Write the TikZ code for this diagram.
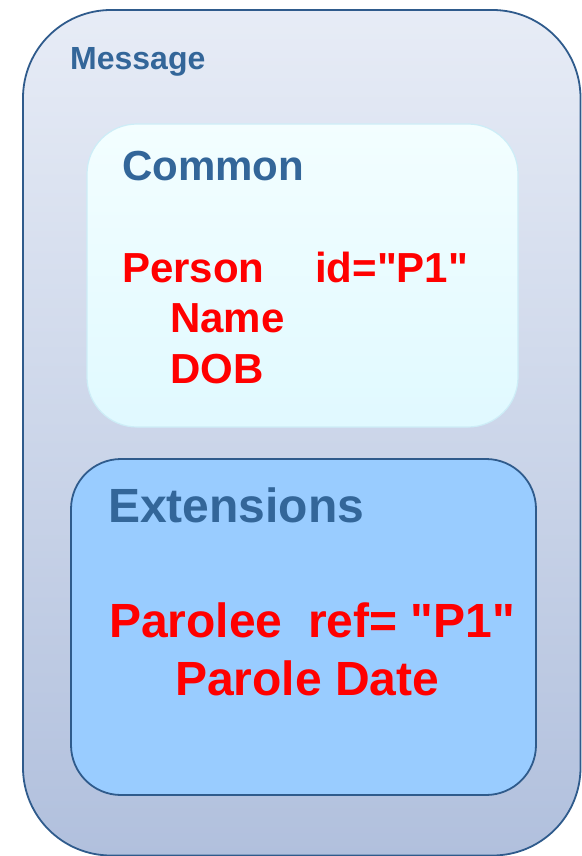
\documentclass[tikz,border=0pt]{standalone}
\usepackage{fontspec}
\newfontfamily\af{Liberation Sans}[Ligatures=ResetAll]
\definecolor{edgeblue}{HTML}{2F5B8C}
\definecolor{titleblue}{HTML}{336699}
\definecolor{outertop}{HTML}{E7ECF6}
\definecolor{outerbot}{HTML}{B1C0DD}
\definecolor{comtop}{HTML}{F3FEFF}
\definecolor{combot}{HTML}{E0F9FF}
\definecolor{comedge}{HTML}{CDEDF7}
\definecolor{extfill}{HTML}{99CCFF}
\definecolor{redtext}{HTML}{FF0000}
\begin{document}
\begin{tikzpicture}[x=1pt,y=-1pt,
  outerbox/.style={draw=edgeblue,line width=1.8pt,rounded corners=88pt,top color=outertop,bottom color=outerbot},
  combox/.style={draw=comedge,line width=1.2pt,rounded corners=50pt,top color=comtop,bottom color=combot},
  extbox/.style={draw=edgeblue,line width=1.8pt,rounded corners=50pt,fill=extfill},
  lbl/.style={anchor=base west,inner sep=0pt},
  small/.style={lbl,text=titleblue,font=\af\bfseries\fontsize{32}{38}\selectfont},
  head/.style={lbl,text=titleblue,font=\af\bfseries\fontsize{42}{50}\selectfont},
  headx/.style={lbl,text=titleblue,font=\af\bfseries\fontsize{48}{56}\selectfont},
  redc/.style={lbl,text=redtext,font=\af\bfseries\fontsize{42}{50}\selectfont},
  rede/.style={lbl,text=redtext,font=\af\bfseries\fontsize{48}{56}\selectfont}]
\useasboundingbox (0,0) rectangle (581,856);
\path[outerbox] (23,10) rectangle (580.5,855.5);
\path[combox] (87,124) rectangle (518,427);
\path[extbox] (71,459) rectangle (536,795);
\node[small] (msg) at (70,70) {Message};
\node[head] (common) at (122,180) {Common};
\node[redc] (person) at (122,282) {Person};
\node[redc] (pid) at (315,282) {id="P1"};
\node[redc] (name) at (170,332) {Name};
\node[redc] (dob) at (170,383) {DOB};
\node[headx] (ext) at (108,522) {Extensions};
\node[rede] (parolee) at (109,637) {Parolee};
\node[rede] (pref) at (308,637) {ref= "P1"};
\node[rede] (pdate) at (175,695) {Parole Date};
\end{tikzpicture}
\end{document}
